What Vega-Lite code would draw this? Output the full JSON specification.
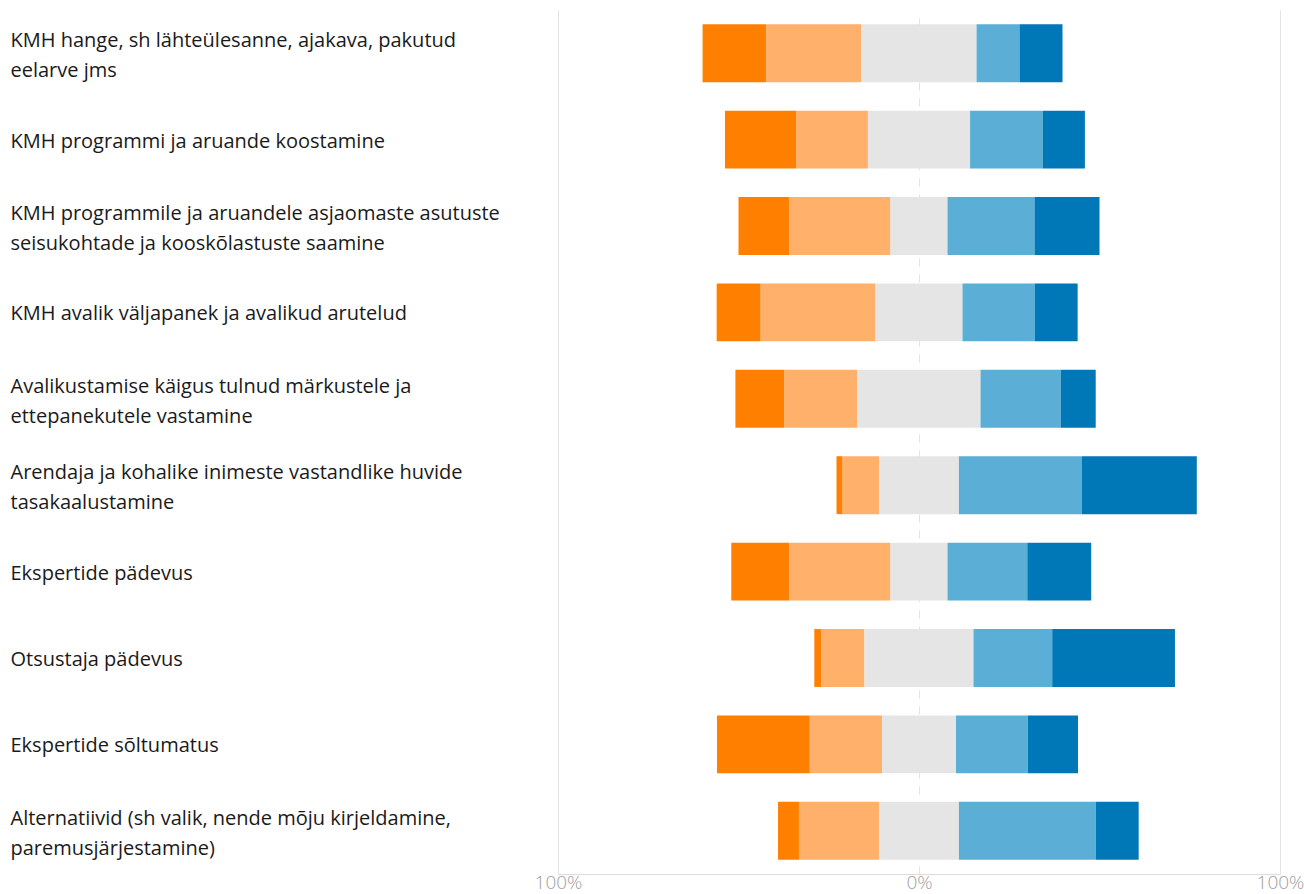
{
  "$schema": "https://vega.github.io/schema/vega-lite/v6.json",
  "width": 722,
  "height": 864,
  "autosize": {"type": "none"},
  "padding": {"left": 558, "top": 10, "right": 24, "bottom": 20},
  "background": "white",
  "config": {"view": {"stroke": null}, "font": "Open Sans"},
  "data": {"values": [
    {"q": 1, "question": "KMH hange, sh lähteülesanne, ajakava, pakutud\neelarve jms", "k": 1, "pct": 17.7},
    {"q": 1, "question": "KMH hange, sh lähteülesanne, ajakava, pakutud\neelarve jms", "k": 2, "pct": 26.3},
    {"q": 1, "question": "KMH hange, sh lähteülesanne, ajakava, pakutud\neelarve jms", "k": 3, "pct": 31.9},
    {"q": 1, "question": "KMH hange, sh lähteülesanne, ajakava, pakutud\neelarve jms", "k": 4, "pct": 11.9},
    {"q": 1, "question": "KMH hange, sh lähteülesanne, ajakava, pakutud\neelarve jms", "k": 5, "pct": 11.9},
    {"q": 2, "question": "KMH programmi ja aruande koostamine", "k": 1, "pct": 19.7},
    {"q": 2, "question": "KMH programmi ja aruande koostamine", "k": 2, "pct": 19.9},
    {"q": 2, "question": "KMH programmi ja aruande koostamine", "k": 3, "pct": 28.3},
    {"q": 2, "question": "KMH programmi ja aruande koostamine", "k": 4, "pct": 20.2},
    {"q": 2, "question": "KMH programmi ja aruande koostamine", "k": 5, "pct": 11.6},
    {"q": 3, "question": "KMH programmile ja aruandele asjaomaste asutuste\nseisukohtade ja kooskõlastuste saamine", "k": 1, "pct": 14.1},
    {"q": 3, "question": "KMH programmile ja aruandele asjaomaste asutuste\nseisukohtade ja kooskõlastuste saamine", "k": 2, "pct": 28.0},
    {"q": 3, "question": "KMH programmile ja aruandele asjaomaste asutuste\nseisukohtade ja kooskõlastuste saamine", "k": 3, "pct": 15.8},
    {"q": 3, "question": "KMH programmile ja aruandele asjaomaste asutuste\nseisukohtade ja kooskõlastuste saamine", "k": 4, "pct": 24.1},
    {"q": 3, "question": "KMH programmile ja aruandele asjaomaste asutuste\nseisukohtade ja kooskõlastuste saamine", "k": 5, "pct": 18.0},
    {"q": 4, "question": "KMH avalik väljapanek ja avalikud arutelud", "k": 1, "pct": 12.2},
    {"q": 4, "question": "KMH avalik väljapanek ja avalikud arutelud", "k": 2, "pct": 31.8},
    {"q": 4, "question": "KMH avalik väljapanek ja avalikud arutelud", "k": 3, "pct": 24.1},
    {"q": 4, "question": "KMH avalik väljapanek ja avalikud arutelud", "k": 4, "pct": 20.0},
    {"q": 4, "question": "KMH avalik väljapanek ja avalikud arutelud", "k": 5, "pct": 11.9},
    {"q": 5, "question": "Avalikustamise käigus tulnud märkustele ja\nettepanekutele vastamine", "k": 1, "pct": 13.6},
    {"q": 5, "question": "Avalikustamise käigus tulnud märkustele ja\nettepanekutele vastamine", "k": 2, "pct": 20.2},
    {"q": 5, "question": "Avalikustamise käigus tulnud märkustele ja\nettepanekutele vastamine", "k": 3, "pct": 34.1},
    {"q": 5, "question": "Avalikustamise käigus tulnud märkustele ja\nettepanekutele vastamine", "k": 4, "pct": 22.2},
    {"q": 5, "question": "Avalikustamise käigus tulnud märkustele ja\nettepanekutele vastamine", "k": 5, "pct": 9.7},
    {"q": 6, "question": "Arendaja ja kohalike inimeste vastandlike huvide\ntasakaalustamine", "k": 1, "pct": 1.7},
    {"q": 6, "question": "Arendaja ja kohalike inimeste vastandlike huvide\ntasakaalustamine", "k": 2, "pct": 10.1},
    {"q": 6, "question": "Arendaja ja kohalike inimeste vastandlike huvide\ntasakaalustamine", "k": 3, "pct": 22.1},
    {"q": 6, "question": "Arendaja ja kohalike inimeste vastandlike huvide\ntasakaalustamine", "k": 4, "pct": 34.1},
    {"q": 6, "question": "Arendaja ja kohalike inimeste vastandlike huvide\ntasakaalustamine", "k": 5, "pct": 31.8},
    {"q": 7, "question": "Ekspertide pädevus", "k": 1, "pct": 16.1},
    {"q": 7, "question": "Ekspertide pädevus", "k": 2, "pct": 28.0},
    {"q": 7, "question": "Ekspertide pädevus", "k": 3, "pct": 15.8},
    {"q": 7, "question": "Ekspertide pädevus", "k": 4, "pct": 22.1},
    {"q": 7, "question": "Ekspertide pädevus", "k": 5, "pct": 17.7},
    {"q": 8, "question": "Otsustaja pädevus", "k": 1, "pct": 1.9},
    {"q": 8, "question": "Otsustaja pädevus", "k": 2, "pct": 12.0},
    {"q": 8, "question": "Otsustaja pädevus", "k": 3, "pct": 30.2},
    {"q": 8, "question": "Otsustaja pädevus", "k": 4, "pct": 21.8},
    {"q": 8, "question": "Otsustaja pädevus", "k": 5, "pct": 34.0},
    {"q": 9, "question": "Ekspertide sõltumatus", "k": 1, "pct": 25.7},
    {"q": 9, "question": "Ekspertide sõltumatus", "k": 2, "pct": 20.0},
    {"q": 9, "question": "Ekspertide sõltumatus", "k": 3, "pct": 20.5},
    {"q": 9, "question": "Ekspertide sõltumatus", "k": 4, "pct": 19.9},
    {"q": 9, "question": "Ekspertide sõltumatus", "k": 5, "pct": 13.9},
    {"q": 10, "question": "Alternatiivid (sh valik, nende mõju kirjeldamine,\nparemusjärjestamine)", "k": 1, "pct": 5.8},
    {"q": 10, "question": "Alternatiivid (sh valik, nende mõju kirjeldamine,\nparemusjärjestamine)", "k": 2, "pct": 22.2},
    {"q": 10, "question": "Alternatiivid (sh valik, nende mõju kirjeldamine,\nparemusjärjestamine)", "k": 3, "pct": 22.1},
    {"q": 10, "question": "Alternatiivid (sh valik, nende mõju kirjeldamine,\nparemusjärjestamine)", "k": 4, "pct": 37.9},
    {"q": 10, "question": "Alternatiivid (sh valik, nende mõju kirjeldamine,\nparemusjärjestamine)", "k": 5, "pct": 11.9}
  ]},
  "transform": [
    {"calculate": "datum.k < 3 ? datum.pct : (datum.k == 3 ? datum.pct / 2 : 0)", "as": "negpart"},
    {"joinaggregate": [{"op": "sum", "field": "negpart", "as": "offset"}], "groupby": ["question"]},
    {"stack": "pct", "groupby": ["question"], "sort": [{"field": "k", "order": "ascending"}], "as": ["v0", "v1"]},
    {"calculate": "datum.v0 - datum.offset", "as": "xs"},
    {"calculate": "datum.v1 - datum.offset", "as": "xe"}
  ],
  "mark": {"type": "bar"},
  "encoding": {
    "y": {
      "field": "question",
      "type": "nominal",
      "sort": {"field": "q", "op": "min", "order": "ascending"},
      "scale": {"paddingInner": 0.33, "paddingOuter": 0.165},
      "axis": {
        "title": null,
        "domain": false,
        "ticks": false,
        "grid": false,
        "labelAlign": "left",
        "labelBaseline": "middle",
        "labelPadding": 548,
        "labelFontSize": 20,
        "labelColor": "#1a1a1a",
        "labelLimit": 0,
        "labelLineHeight": 30,
        "labelOffset": {"condition": {"test": "indexof(datum.label, '\\n') >= 0", "value": -12}, "value": 2},
        "labelExpr": "split(datum.label, '\\n')"
      }
    },
    "x": {
      "field": "xs",
      "type": "quantitative",
      "scale": {"domain": [-100, 100], "nice": false},
      "axis": {
        "title": null,
        "values": [-100, 0, 100],
        "labelExpr": "abs(datum.value) + '%'",
        "ticks": false,
        "domain": true,
        "domainColor": "#dddddd",
        "labelColor": "#a0a0a0",
        "labelFontSize": 19,
        "labelFontWeight": 300,
        "labelBaseline": "alphabetic",
        "labelPadding": 14,
        "labelFlush": false,
        "grid": true,
        "gridColor": "#e3e3e3",
        "gridWidth": 1,
        "gridDash": {"condition": {"test": "datum.value === 0", "value": [8, 8]}, "value": []}
      }
    },
    "x2": {"field": "xe"},
    "color": {
      "field": "k",
      "type": "ordinal",
      "scale": {"domain": [1, 2, 3, 4, 5], "range": ["#ff8000", "#ffb06b", "#e5e5e5", "#5baed6", "#0077b7"]},
      "legend": null
    }
  }
}
